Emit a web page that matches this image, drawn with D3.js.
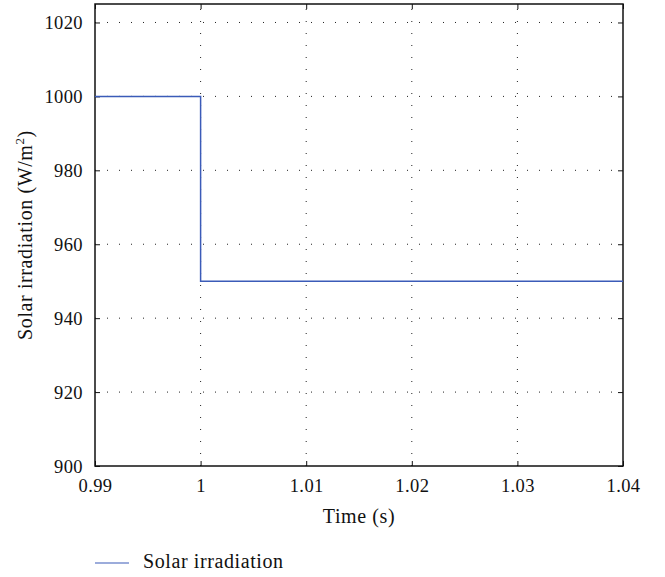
<!DOCTYPE html>
<html>
<head>
<meta charset="utf-8">
<script src="https://cdn.jsdelivr.net/npm/d3@7"></script>
<style>
  body { margin: 0; background: #fff; }
  svg text { font-family: "Liberation Serif", "Times New Roman", serif !important; fill: #111; }
  .grid line { stroke: #222; stroke-dasharray: 1,11; stroke-width: 1; }
  .axis path, .axis line { stroke: #111; }
</style>
</head>
<body>
<script>
// data
var times = [0.99, 1.0, 1.0, 1.04];
var irradiation = [1000, 1000, 950, 950];
var xTicks = [0.99, 1, 1.01, 1.02, 1.03, 1.04];
var yTicks = [900, 920, 940, 960, 980, 1000, 1020];
var seriesName = "Solar irradiation";

var margin = {top: 4, right: 42, bottom: 111, left: 95},
    width = 665 - margin.left - margin.right,
    height = 577 - margin.top - margin.bottom;

var x = d3.scaleLinear().domain([0.99, 1.04]).range([0, width]);
var y = d3.scaleLinear().domain([900, 1025]).range([height, 0]);

var svg = d3.select("body").append("svg")
    .attr("width", 665)
    .attr("height", 577)
  .append("g")
    .attr("transform", "translate(" + margin.left + "," + margin.top + ")");

// dotted grid
var grid = svg.append("g").attr("class", "grid");
grid.selectAll(".gx").data(xTicks.slice(1, -1)).enter().append("line")
    .attr("x1", function(d) { return x(d); }).attr("x2", function(d) { return x(d); })
    .attr("y1", height).attr("y2", 0);
grid.selectAll(".gy").data(yTicks.slice(1)).enter().append("line")
    .attr("y1", function(d) { return y(d); }).attr("y2", function(d) { return y(d); })
    .attr("x1", 0).attr("x2", width);

// axes
var xAxis = d3.axisBottom(x).tickValues(xTicks).tickSizeInner(-5).tickSizeOuter(0)
    .tickFormat(function(d) { return String(+d.toFixed(2)); });
var yAxis = d3.axisLeft(y).tickValues(yTicks).tickSizeInner(-5).tickSizeOuter(0)
    .tickFormat(function(d) { return String(d); });

svg.append("g").attr("class", "axis")
    .attr("transform", "translate(0," + height + ")")
    .call(xAxis)
    .call(function(g) {
      g.select(".domain").remove();
      g.selectAll("text").attr("dy", null).attr("y", 26)
        .style("font-size", "18.5px").style("letter-spacing", "0.4px");
    });

svg.append("g").attr("class", "axis")
    .call(yAxis)
    .call(function(g) {
      g.select(".domain").remove();
      g.selectAll("text").attr("x", -12).attr("dy", "0.33em")
        .style("font-size", "18.5px").style("letter-spacing", "0.4px");
    });

// right and top ticks
svg.append("g").attr("class", "axis")
    .attr("transform", "translate(" + width + ",0)")
    .call(d3.axisRight(y).tickValues(yTicks).tickSizeInner(-5).tickSizeOuter(0).tickFormat(""))
    .call(function(g) { g.select(".domain").remove(); });
svg.append("g").attr("class", "axis")
    .call(d3.axisTop(x).tickValues(xTicks).tickSizeInner(-5).tickSizeOuter(0).tickFormat(""))
    .call(function(g) { g.select(".domain").remove(); });

// frame
svg.append("rect")
    .attr("width", width).attr("height", height)
    .attr("fill", "none").attr("stroke", "#111").attr("stroke-width", 1.5);

// series
var pts = times.map(function(t, i) { return [t, irradiation[i]]; });
var line = d3.line()
    .x(function(d) { return x(d[0]); })
    .y(function(d) { return y(d[1]); });

svg.append("path")
    .datum(pts)
    .attr("fill", "none")
    .attr("stroke", "#3b5bb8")
    .attr("stroke-width", 1.5)
    .attr("d", line);

// axis titles
svg.append("text")
    .attr("x", width / 2).attr("y", height + 57)
    .attr("text-anchor", "middle")
    .style("font-size", "20px").style("letter-spacing", "0.6px")
    .text("Time (s)");

var yt = svg.append("text")
    .attr("transform", "translate(-63," + (height / 2) + ") rotate(-90)")
    .attr("text-anchor", "middle")
    .style("font-size", "20px").style("letter-spacing", "0.6px");
yt.append("tspan").text("Solar irradiation (W/m");
yt.append("tspan").attr("dy", -8).style("font-size", "13px").text("2");
yt.append("tspan").attr("dy", 8).text(")");

// legend
var leg = svg.append("g").attr("transform", "translate(0," + (height + 97) + ")");
leg.append("line").attr("x1", 0).attr("x2", 34).attr("stroke", "#3b5bb8").attr("stroke-width", 1.2);
leg.append("text").attr("x", 48).attr("y", 4.5)
    .style("font-size", "20px").style("letter-spacing", "0.6px").text(seriesName);
</script>
</body>
</html>
